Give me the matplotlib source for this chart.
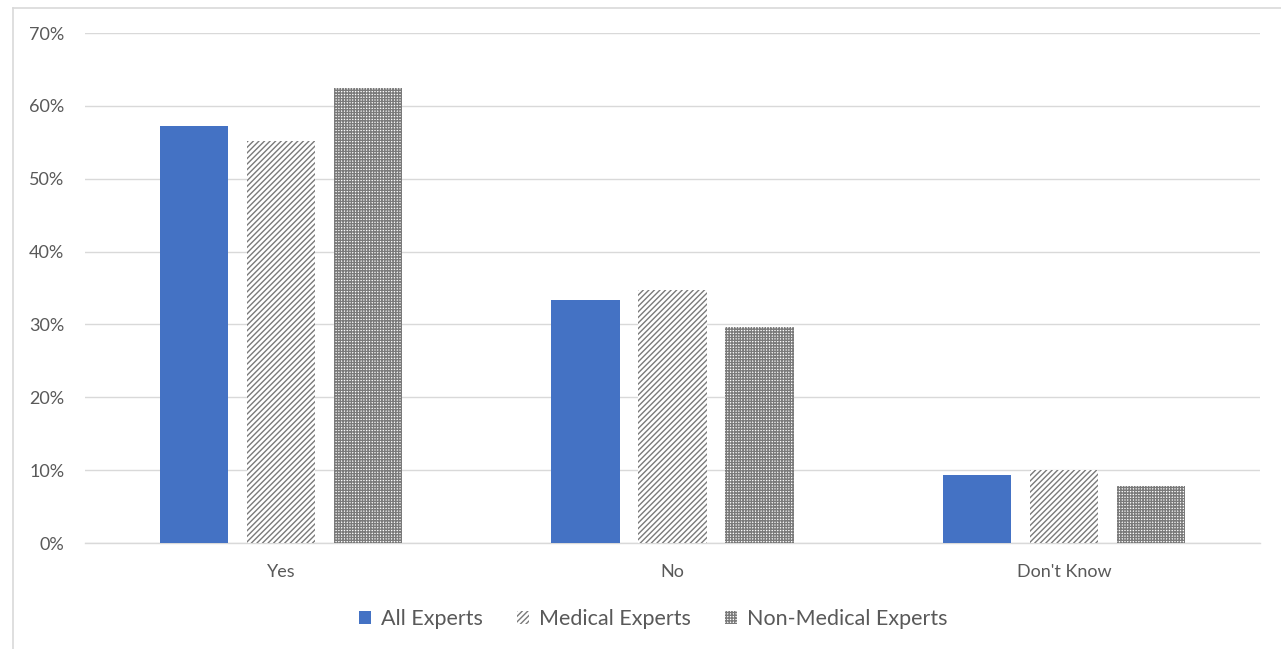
import matplotlib
matplotlib.use("Agg")
import matplotlib.pyplot as plt
import numpy as np
from matplotlib.lines import Line2D

plt.rcParams['font.family'] = ['Lato', 'DejaVu Sans']
plt.rcParams['hatch.linewidth'] = 1.0

categories = ["Yes", "No", "Don't Know"]
series_names = ["All Experts", "Medical Experts", "Non-Medical Experts"]
all_experts = [0.572, 0.334, 0.093]
medical = [0.552, 0.347, 0.100]
non_medical = [0.625, 0.296, 0.078]
yticks = [0, 0.1, 0.2, 0.3, 0.4, 0.5, 0.6, 0.7]
ytick_labels = ["0%", "10%", "20%", "30%", "40%", "50%", "60%", "70%"]

fig = plt.figure(figsize=(12.81, 6.49), dpi=100)
ax = fig.add_axes([85/1281, 1-543/649, (1260-85)/1281, (543-33)/649])

x = np.arange(len(categories))
w = 0.174
step = 0.222
gray_txt = '#595959'

ax.bar(x - step, all_experts, w, color='#4472c4', label=series_names[0], zorder=3)
ax.bar(x, medical, w, color='white', edgecolor='#7a7a7a', hatch='//////', linewidth=0, label=series_names[1], zorder=3)
ax.bar(x + step, non_medical, w, color='white', edgecolor='#7a7a7a', hatch='++++++', linewidth=0, label=series_names[2], zorder=3)

ax.set_xlim(-0.5, 2.5)
ax.set_ylim(0, 0.7)
ax.set_yticks(yticks)
ax.set_yticklabels(ytick_labels)
ax.set_xticks(x)
ax.set_xticklabels(categories)
ax.yaxis.grid(True, color='#d9d9d9', linewidth=1, zorder=0)
ax.set_axisbelow(True)
for s in ['top', 'right', 'left']:
    ax.spines[s].set_visible(False)
ax.spines['bottom'].set_color('#d9d9d9')
ax.spines['bottom'].set_linewidth(1)
ax.tick_params(axis='both', length=0, labelsize=13, colors=gray_txt)
ax.tick_params(axis='y', pad=15)
ax.tick_params(axis='x', pad=15)

leg = fig.legend(loc='center', bbox_to_anchor=(653/1281, 1-619/649), ncol=3, frameon=False,
                 fontsize=15.5, handlelength=0.56, handleheight=0.56, handletextpad=0.45,
                 columnspacing=1.6)
for t in leg.get_texts():
    t.set_color(gray_txt)

# outer frame lines
fig.add_artist(Line2D([13/1281, 13/1281], [0, 1-8/649], transform=fig.transFigure, color='#d9d9d9', lw=1.2))
fig.add_artist(Line2D([13/1281, 1], [1-8/649, 1-8/649], transform=fig.transFigure, color='#d9d9d9', lw=1.2))

fig.savefig("out.png", dpi=100)
